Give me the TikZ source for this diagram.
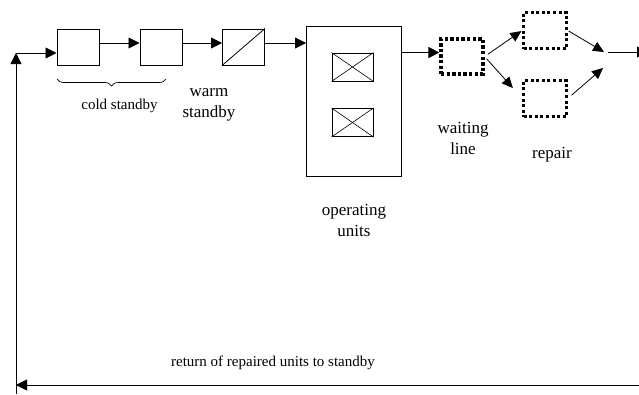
\documentclass[tikz,border=0pt]{standalone}
\usepackage{fontspec}
\setmainfont{Liberation Serif}
\usetikzlibrary{arrows.meta,decorations.pathreplacing}

\begin{document}
\begin{tikzpicture}[x=1pt,y=-1pt]
	\tikzstyle{unit}=[draw,line width=1pt,minimum width=42pt,minimum height=36pt,inner sep=0pt]
	\tikzstyle{failed}=[draw,line width=0.9pt,minimum width=41pt,minimum height=28pt,inner sep=0pt]
	\tikzstyle{queue}=[draw,line width=3.2pt,dash pattern=on 3.4pt off 2.2pt,minimum width=42pt,minimum height=35pt,inner sep=0pt]
	\tikzstyle{repairbox}=[draw,line width=2.6pt,dash pattern=on 3pt off 2.6pt,minimum width=43pt,minimum height=36pt,inner sep=0pt]
	\tikzstyle{note}=[font=\fontsize{17}{21}\selectfont,align=center,inner sep=0pt]
	\tikzstyle{flow}=[draw,line width=0.9pt,-{Triangle[length=11pt,width=11pt]}]
	\tikzstyle{thinflow}=[draw,line width=0.8pt,-{Triangle[length=11pt,width=10pt]}]
	\useasboundingbox (0,0) rectangle (639,394);
	\clip (0,0) rectangle (639,394);
	\begin{scope}
		% standby units
		\node [unit] (cold1) at (78,47) {};
		\node [unit] (cold2) at (161,47) {};
		\node [unit] (warm) at (243.5,47) {};
		\draw [line width=0.8pt] (warm.south west) -- (warm.north east);
		% operating units
		\node [unit,minimum width=95pt,minimum height=150pt] (oper) at (354,101) {};
		\node [failed] (op1) at (352.5,67) {};
		\node [failed] (op2) at (352.5,122.5) {};
		\foreach \u in {op1,op2} {
			\draw [line width=0.6pt] (\u.south west) -- (\u.north east);
			\draw [line width=0.6pt] (\u.north west) -- (\u.south east);
		}
		% waiting line and repair
		\node [queue] (wait) at (462,56.5) {};
		\node [repairbox] (rep1) at (545,30.5) {};
		\node [repairbox] (rep2) at (545,98.5) {};
		\coordinate (mtop) at (604,52);
		\coordinate (mbot) at (603,68);
		\coordinate (mout) at (608,52);
		\coordinate (exit) at (648,52);
		% feedback loop
		\coordinate (loopT) at (16,53);
		\coordinate (loopB) at (16,394);
		\coordinate (retR) at (639,385);
		\coordinate (retL) at (16,385);
		\coordinate (braceL) at (57,79);
		\coordinate (braceR) at (166,79);

		\path[flow] (loopT -| cold1.west) ++(-41,0) -- (loopT -| cold1.west);
		\path[flow] ([yshift=4pt]cold1.east) -- ([yshift=4pt]cold2.west);
		\path[flow] ([yshift=4pt]cold2.east) -- ([yshift=4pt]warm.west);
		\path[flow] ([yshift=4pt]warm.east) -- ([yshift=4pt]warm.east -| oper.west);
		\path[flow] ([yshift=4pt]wait.west -| oper.east) -- ([yshift=4pt]wait.west);
		\path[thinflow, shorten <=4pt, shorten >=1pt] (wait.east) -- (rep1.west);
		\path[thinflow, shorten <=3pt, shorten >=14pt] (wait.east) -- (rep2.west);
		\path[thinflow, shorten <=1pt] (rep1.east) -- (mtop);
		\path[thinflow, shorten <=5pt] (rep2.east) -- (mbot);
		\path[flow] (mout) -- (exit);
		\path[flow] (loopB) -- (loopT);
		\path[flow] (retR) -- (retL);

		\draw [line width=0.7pt, decorate, decoration={brace,mirror,amplitude=7pt}] (braceL) -- (braceR);

		% labels
		\node [note, font=\fontsize{15}{18}\selectfont] (coldlbl) at (119.5,106) {cold standby};
		\node [note] (warmlbl) at (209,105) {warm\\standby};
		\node [note] (operlbl) at (354,220) {operating\\units};
		\node [note] (waitlbl) at (463,138) {waiting\\line};
		\node [note] (replbl) at (552,155) {repair};
		\node [note, font=\fontsize{15}{18}\selectfont] (retlbl) at (273,363) {return of repaired units to standby};
	\end{scope}
\end{tikzpicture}
\end{document}
